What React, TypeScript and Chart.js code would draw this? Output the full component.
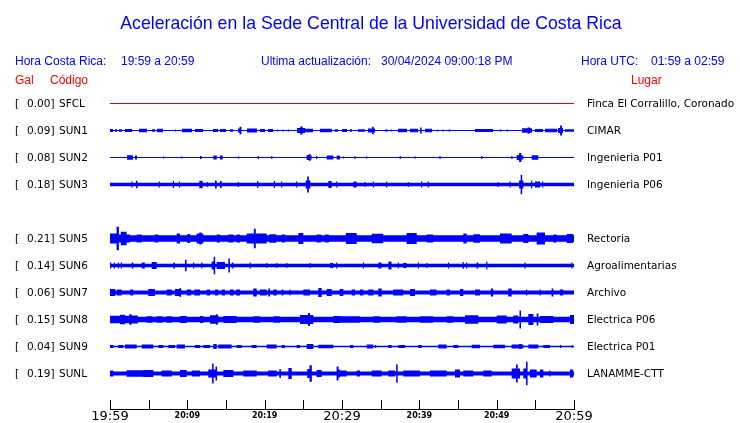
import React, { useEffect, useRef } from 'react';
import { Chart, registerables } from 'chart.js';

Chart.register(...registerables);

// ---- data ----
const stationCodes = ['SFCL', 'SUN1', 'SUN2', 'SUN3', 'SUN5', 'SUN6', 'SUN7', 'SUN8', 'SUN9', 'SUNL'];
const peakGal = ['0.00', '0.09', '0.08', '0.18', '0.21', '0.14', '0.06', '0.15', '0.04', '0.19'];
const places = [
  'Finca El Corralillo, Coronado', 'CIMAR', 'Ingenieria P01', 'Ingenieria P06', 'Rectoria',
  'Agroalimentarias', 'Archivo', 'Electrica P06', 'Electrica P01', 'LANAMME-CTT',
];
const rowSlots = [0, 1, 2, 3, 5, 6, 7, 8, 9, 10];
const baseAmp = [0.5, 0.5, 0.5, 1.8, 3.2, 1.8, 2.0, 2.7, 0.8, 2.0];
const tickMinutes = [0, 10, 20, 30, 40, 50, 60];
const tickLabels = ['19:59', '20:09', '20:19', '20:29', '20:39', '20:49', '20:59'];

// bursts: [start minute, end minute, half amplitude]
const sfclBursts: number[][] = [];
const sun1Bursts = [
  [0, 0.39, 1.5], [0.65, 0.91, 1.2], [1.16, 1.55, 1.2], [1.94, 2.84, 1.5], [3.75, 4.78, 1.7],
  [5.43, 5.82, 1.2], [6.08, 6.85, 1.7], [8.41, 8.55, 1.0], [9.31, 10.6, 1.7], [10.99, 12.03, 1.5],
  [13.32, 13.97, 1.5], [14.22, 15.0, 1.5], [15.52, 15.91, 1.2], [16.55, 16.75, 2.0], [16.75, 17.0, 3.7],
  [17.72, 19.01, 2.0], [19.4, 20.04, 1.5], [20.43, 21.08, 1.5], [21.6, 21.75, 1.0], [22.3, 22.45, 1.0],
  [23.0, 23.15, 1.0], [24.18, 24.6, 2.5], [24.6, 24.9, 4.0], [24.9, 25.22, 2.5], [25.22, 26.25, 1.7],
  [27.16, 28.71, 1.7], [29.09, 29.48, 1.2], [30.0, 30.65, 1.5], [31.03, 31.29, 1.2], [32.07, 32.97, 1.3],
  [33.36, 33.88, 2.0], [33.88, 34.1, 3.7], [34.1, 34.27, 2.0], [35.56, 35.9, 1.0], [36.3, 36.45, 1.0],
  [37.24, 38.41, 1.7], [38.79, 39.83, 1.7], [40.1, 40.3, 3.0], [40.73, 41.64, 1.7], [42.3, 42.45, 1.0],
  [43.0, 43.15, 1.0], [43.8, 44.0, 1.0], [47.2, 49.53, 1.5], [50.4, 50.6, 1.0], [51.3, 51.45, 1.0],
  [53.28, 54.0, 2.2], [54.0, 54.3, 3.0], [54.3, 54.57, 2.2], [54.96, 55.99, 1.5], [56.25, 57.8, 1.7],
  [57.93, 58.2, 2.5], [58.2, 58.45, 5.0], [58.45, 58.58, 2.5], [58.84, 60, 1.2],
];
const sun2Bursts = [
  [2.2, 2.97, 2.2], [3.23, 3.49, 2.0], [6.85, 7.0, 1.0], [9.2, 9.35, 1.0], [11.64, 11.85, 1.5],
  [13.36, 13.8, 2.0], [14.22, 14.57, 2.0], [16.55, 16.7, 1.0], [19.1, 19.25, 1.5], [20.85, 21.0, 1.5],
  [25.43, 25.7, 2.5], [25.7, 25.95, 3.3], [25.95, 26.08, 2.0], [26.65, 26.8, 1.5], [28.02, 28.88, 2.0],
  [29.31, 29.74, 2.0], [30.1, 30.25, 1.0], [31.6, 31.75, 1.5], [33.1, 33.25, 1.0], [37.45, 37.6, 1.5],
  [39.4, 39.55, 1.0], [42.6, 42.75, 1.5], [48.0, 48.15, 1.5], [51.9, 52.05, 1.5], [52.59, 52.9, 2.5],
  [52.9, 53.2, 4.5], [53.2, 53.45, 2.0], [54.53, 55.39, 2.3],
];
const sun3Bursts = [
  [2.75, 2.9, 3.0], [3.36, 3.55, 3.8], [6.3, 6.45, 3.0], [8.12, 8.27, 3.5], [8.9, 9.05, 3.0],
  [11.55, 11.98, 3.8], [12.52, 12.67, 2.5], [13.58, 13.8, 4.0], [14.22, 14.44, 3.5], [16.52, 16.67, 2.5],
  [19.02, 19.18, 3.5], [21.17, 21.33, 3.5], [22.12, 22.27, 3.0], [24.06, 24.21, 3.0], [25.3, 25.5, 4.0],
  [25.5, 25.72, 8.0], [25.72, 25.9, 4.0], [28.23, 28.66, 3.5], [29.24, 29.39, 3.0], [31.46, 31.9, 3.0],
  [32.9, 33.05, 2.5], [33.98, 34.13, 3.0], [35.7, 35.85, 3.0], [38.5, 38.65, 2.5], [40.22, 40.37, 3.0],
  [41.08, 41.23, 3.0], [50.13, 50.28, 2.5], [51.65, 51.8, 3.0], [52.9, 53.1, 4.0], [53.1, 53.3, 9.7],
  [53.3, 53.45, 4.0], [54.45, 54.6, 4.0], [54.96, 55.6, 3.0], [55.88, 56.03, 3.0],
];
const sun5Bursts = [
  [0, 0.85, 5.0], [0.85, 1.15, 11.7], [1.15, 1.4, 4.0], [1.4, 2.15, 6.7], [2.15, 2.6, 4.0],
  [3.45, 4.1, 4.0], [5.8, 6.25, 4.0], [8.62, 9.05, 5.0], [10.0, 10.35, 4.5], [11.2, 11.55, 5.0],
  [11.55, 11.85, 6.0], [11.85, 12.07, 5.0], [13.8, 14.22, 4.0], [15.3, 15.95, 4.0], [16.38, 16.81, 4.0],
  [17.67, 18.6, 5.0], [18.6, 18.85, 9.7], [18.85, 20.26, 5.0], [20.6, 21.5, 4.3], [22.2, 22.63, 4.0],
  [24.35, 25.0, 5.5], [26.72, 27.3, 4.0], [27.8, 28.3, 4.0], [30.5, 31.9, 5.5], [33.84, 35.34, 4.8],
  [38.36, 39.66, 5.5], [40.95, 41.8, 4.0], [45.69, 46.12, 5.0], [46.98, 47.84, 4.3], [50.43, 51.94, 5.0],
  [53.45, 54.1, 4.5], [55.17, 56.25, 6.0], [57.33, 57.76, 4.0], [59.06, 59.9, 4.5],
];
const sun6Bursts = [
  [0, 0.15, 3.0], [0.5, 0.65, 3.0], [1.0, 1.15, 3.0], [1.4, 1.55, 3.0], [2.8, 3.0, 3.0],
  [4.1, 4.5, 3.0], [5.4, 6.04, 3.5], [8.2, 8.4, 3.0], [9.7, 9.9, 5.8], [10.75, 10.9, 3.0],
  [11.8, 11.95, 3.0], [13.15, 13.4, 4.0], [13.4, 13.6, 8.7], [13.8, 14.87, 3.5], [15.3, 15.5, 7.0],
  [15.75, 15.95, 3.0], [18.05, 18.2, 3.0], [20.2, 20.35, 2.5], [21.5, 21.65, 2.5], [22.8, 22.95, 2.5],
  [25.8, 25.95, 2.5], [28.45, 28.85, 2.5], [29.25, 29.4, 3.0], [32.7, 32.85, 3.0], [34.7, 35.1, 3.0],
  [36.0, 36.4, 4.0], [37.2, 37.35, 3.0], [37.9, 38.35, 2.5], [39.8, 39.95, 3.0], [40.9, 41.05, 2.5],
  [43.7, 43.85, 3.0], [45.6, 45.75, 3.5], [46.05, 46.2, 3.0], [47.4, 47.62, 3.0], [48.65, 48.8, 4.0],
  [53.6, 53.75, 3.0], [59.65, 59.8, 3.0],
];
const sun7Bursts = [
  [0, 0.7, 3.5], [0.9, 1.5, 3.0], [2.6, 3.0, 3.0], [4.95, 5.8, 3.5], [7.33, 7.98, 3.0],
  [8.4, 9.0, 3.5], [9.0, 9.2, 4.5], [9.92, 10.5, 3.0], [10.9, 11.64, 3.0], [12.5, 12.93, 3.0],
  [13.58, 14.0, 3.0], [14.44, 14.87, 3.0], [15.52, 16.0, 3.0], [16.3, 16.81, 3.0], [18.53, 18.97, 4.0],
  [19.4, 20.26, 3.0], [20.47, 20.69, 4.0], [21.12, 21.55, 3.0], [22.2, 22.41, 3.0], [23.2, 23.35, 3.0],
  [25.0, 25.86, 3.0], [26.94, 27.37, 4.5], [28.02, 28.66, 3.5], [29.7, 30.17, 3.5], [31.25, 31.68, 3.0],
  [32.33, 32.76, 3.0], [33.4, 34.05, 3.0], [34.7, 35.13, 4.0], [36.63, 37.93, 3.0], [38.8, 39.44, 3.5],
  [41.38, 42.24, 3.0], [43.53, 43.96, 3.0], [45.26, 45.69, 3.5], [47.2, 47.84, 3.0], [49.25, 49.55, 4.0],
  [51.5, 51.94, 4.0], [53.8, 53.95, 3.0], [55.55, 55.7, 3.0], [57.1, 57.33, 4.0], [58.19, 58.62, 3.0],
];
const sun8Bursts = [
  [0, 1.29, 3.8], [1.29, 1.94, 4.8], [1.94, 2.5, 3.8], [2.5, 2.8, 5.2], [2.8, 3.6, 4.0],
  [4.7, 5.5, 3.2], [6.0, 6.8, 3.2], [7.3, 8.0, 3.2], [9.05, 9.92, 3.5], [11.64, 12.07, 3.5],
  [12.93, 13.7, 4.3], [13.7, 13.9, 5.3], [13.9, 14.0, 4.3], [14.66, 16.38, 3.5], [18.53, 19.4, 3.3],
  [21.12, 21.98, 3.3], [24.57, 25.6, 4.5], [25.6, 25.86, 6.5], [25.86, 26.29, 4.5], [28.88, 29.74, 3.5],
  [29.74, 32.33, 3.2], [34.05, 34.91, 3.2], [37.07, 38.36, 3.2], [40.09, 41.8, 3.2], [43.53, 44.4, 3.2],
  [45.9, 47.63, 4.3], [50.0, 51.3, 4.0], [52.15, 52.8, 4.0], [52.95, 53.15, 9.0], [54.09, 54.74, 5.5],
  [55.17, 55.39, 6.0], [55.6, 57.33, 3.5], [59.48, 60, 4.5],
];
const sun9Bursts = [
  [0, 0.43, 1.5], [1.07, 1.72, 1.5], [1.94, 3.45, 2.0], [4.1, 5.6, 2.0], [6.25, 6.9, 1.5],
  [7.54, 8.41, 1.5], [8.62, 9.7, 2.0], [10.99, 11.64, 1.5], [12.07, 12.93, 1.5], [13.36, 13.8, 2.5],
  [14.0, 15.73, 2.0], [16.38, 17.03, 1.5], [18.32, 18.97, 1.5], [20.26, 21.55, 2.0], [22.2, 22.63, 1.5],
  [24.14, 24.57, 1.5], [25.43, 26.29, 2.5], [26.94, 28.88, 1.8], [31.03, 31.46, 1.5], [33.19, 34.05, 2.0],
  [34.27, 34.42, 1.5], [35.99, 36.42, 1.5], [37.28, 38.15, 1.5], [39.87, 40.3, 1.5], [42.45, 43.53, 2.0],
  [44.4, 45.04, 1.5], [46.77, 47.84, 1.8], [49.57, 51.08, 1.8], [51.94, 52.9, 2.0], [52.9, 53.2, 2.5],
  [53.2, 53.45, 2.0], [54.09, 55.39, 2.0], [56.03, 56.9, 1.5], [58.19, 58.34, 1.5], [59.7, 59.85, 1.5],
];
const sunlBursts = [
  [0, 0.43, 3.0], [2.15, 4.3, 3.3], [4.3, 5.6, 3.5], [6.68, 7.98, 3.0], [9.05, 9.92, 3.5],
  [10.56, 11.64, 3.0], [12.7, 13.2, 4.0], [13.2, 13.4, 10.0], [13.4, 13.65, 4.0], [13.65, 13.85, 7.0],
  [14.66, 15.95, 3.5], [17.24, 18.97, 3.0], [20.47, 21.55, 3.0], [21.9, 22.1, 4.5], [23.06, 23.5, 5.5],
  [25.5, 25.8, 4.5], [25.8, 26.1, 8.3], [26.72, 27.37, 3.5], [29.3, 29.55, 7.0], [29.55, 29.74, 4.0],
  [29.74, 30.6, 3.0], [31.9, 32.33, 3.0], [33.84, 35.13, 3.0], [35.99, 36.85, 3.0], [37.0, 37.2, 9.3],
  [37.93, 40.09, 3.0], [41.38, 43.53, 3.0], [44.61, 45.26, 4.0], [45.69, 46.98, 3.0], [48.27, 49.35, 3.0],
  [51.94, 52.5, 5.0], [52.5, 52.72, 9.0], [52.72, 53.02, 5.0], [53.45, 53.8, 5.0], [53.8, 54.0, 11.7],
  [54.31, 55.17, 4.0], [55.6, 56.03, 4.0], [56.8, 56.95, 3.0], [59.48, 59.91, 4.0],
];
const stationBursts = [
  sfclBursts, sun1Bursts, sun2Bursts, sun3Bursts, sun5Bursts,
  sun6Bursts, sun7Bursts, sun8Bursts, sun9Bursts, sunlBursts,
];

// ---- styling / layout ----
const traceColors = ['#e00000', '#0000ff', '#0000ff', '#0000ff', '#0000ff', '#0000ff', '#0000ff', '#0000ff', '#0000ff', '#0000ff'];
const ROW_STEP = 27;
const AREA_TOP = 90;
const AREA_BOTTOM = 409;
const ROW0_PX = 103.5;
const LABEL_BASE0 = 107.3;

function envelope(base: number, bursts: number[][]) {
  const sorted = bursts.slice().sort((a, b) => a[0] - b[0]);
  const pts: { x: number; a: number }[] = [{ x: 0, a: base }];
  sorted.forEach((b, i) => {
    pts.push({ x: b[0], a: b[2] });
    const nextStart = i + 1 < sorted.length ? sorted[i + 1][0] : 60;
    if (b[1] < nextStart) pts.push({ x: b[1], a: base });
  });
  pts.push({ x: 60, a: base });
  return pts;
}

const axisPlugin = {
  id: 'seisAxis',
  afterDraw(chart: any) {
    const xs = chart.scales.x;
    const ctx = chart.ctx;
    const y = Math.round(chart.chartArea.bottom) + 0.5;
    ctx.save();
    ctx.strokeStyle = '#000';
    ctx.lineWidth = 1;
    ctx.beginPath();
    ctx.moveTo(Math.round(xs.getPixelForValue(xs.min)), y);
    ctx.lineTo(Math.round(xs.getPixelForValue(xs.max)) + 1, y);
    for (const t of xs.ticks) {
      const px = Math.round(xs.getPixelForValue(t.value)) + 0.5;
      ctx.moveTo(px, y - 9.5);
      ctx.lineTo(px, y);
    }
    ctx.stroke();
    ctx.restore();
  },
};

export default function App() {
  const canvasRef = useRef<HTMLCanvasElement | null>(null);

  useEffect(() => {
    if (!canvasRef.current) return;
    const datasets: any[] = [];
    stationCodes.forEach((_, i) => {
      const rowY = ROW_STEP * rowSlots[i];
      const env = envelope(baseAmp[i], stationBursts[i]);
      const common = {
        type: 'line',
        borderWidth: 0,
        pointRadius: 0,
        pointHoverRadius: 0,
        stepped: true,
        tension: 0,
        borderColor: traceColors[i],
        backgroundColor: traceColors[i],
      };
      datasets.push({ ...common, data: env.map((p) => ({ x: p.x, y: rowY - p.a })), fill: false });
      datasets.push({ ...common, data: env.map((p) => ({ x: p.x, y: rowY + p.a })), fill: '-1' });
    });

    const yMin = (ROW0_PX - AREA_TOP) * -1;
    const chart = new Chart(canvasRef.current, {
      type: 'line',
      data: { datasets },
      plugins: [axisPlugin],
      options: {
        animation: false,
        responsive: false,
        maintainAspectRatio: false,
        events: [],
        layout: { padding: { left: 110, right: 166, top: AREA_TOP, bottom: 0 } },
        plugins: {
          legend: { display: false },
          tooltip: { enabled: false },
          title: { display: false },
        },
        scales: {
          x: {
            type: 'linear',
            min: 0,
            max: 60,
            grid: { display: false, drawTicks: false, tickLength: 0 },
            border: { display: false },
            ticks: {
              stepSize: 5,
              autoSkip: false,
              maxRotation: 0,
              minRotation: 0,
              padding: 0,
              color: '#000',
              callback: (v: any) => {
                const k = tickMinutes.indexOf(Number(v));
                return k >= 0 ? tickLabels[k] : '';
              },
              font: (ctx: any) =>
                ctx.tick && ctx.tick.value % 30 === 0
                  ? { family: 'DejaVu Sans', size: 13, lineHeight: 1.2 }
                  : { family: 'DejaVu Sans', size: 8, weight: 'bold', lineHeight: 1.75 },
            },
            afterFit: (s: any) => {
              s.height = 423 - AREA_BOTTOM;
            },
          },
          y: {
            type: 'linear',
            display: false,
            reverse: true,
            min: yMin,
            max: yMin + (AREA_BOTTOM - AREA_TOP),
          },
        },
      } as any,
    } as any);
    return () => chart.destroy();
  }, []);

  const sans = '"Liberation Sans", Arial, sans-serif';
  const dv = '"DejaVu Sans", sans-serif';
  const txt = (left: number, baseline: number, size: number, family: string, color: string, s: string, key: string) => (
    <span
      key={key}
      style={{
        position: 'absolute',
        left,
        top: baseline - 0.846 * size,
        fontFamily: family,
        fontSize: size,
        lineHeight: `${size}px`,
        color,
        whiteSpace: 'pre',
      }}
    >
      {s}
    </span>
  );

  return (
    <div style={{ position: 'absolute', left: 0, top: 0, width: 740, height: 423, background: '#fff', overflow: 'hidden' }}>
      <canvas ref={canvasRef} width={740} height={423} style={{ position: 'absolute', left: 0, top: 0, width: 740, height: 423 }} />
      <div
        style={{
          position: 'absolute', left: 0, width: 742, textAlign: 'center', top: 30 - 0.846 * 17.7,
          fontFamily: sans, fontSize: 17.7, lineHeight: '17.7px', color: '#0000ff', whiteSpace: 'pre',
        }}
      >
        Aceleración en la Sede Central de la Universidad de Costa Rica
      </div>
      {txt(15, 65, 12, sans, '#0000ff', 'Hora Costa Rica:', 'h1')}
      {txt(121, 65, 12, sans, '#0000ff', '19:59 a 20:59', 'h2')}
      {txt(261, 65, 12, sans, '#0000ff', 'Ultima actualización:', 'h3')}
      {txt(381, 65, 12, sans, '#0000ff', '30/04/2024 09:00:18 PM', 'h4')}
      {txt(581, 65, 12, sans, '#0000ff', 'Hora UTC:', 'h5')}
      {txt(651, 65, 12, sans, '#0000ff', '01:59 a 02:59', 'h6')}
      {txt(15, 84, 12, sans, '#ff0000', 'Gal', 'r1')}
      {txt(50, 84, 12, sans, '#ff0000', 'Código', 'r2')}
      {txt(631, 84, 12, sans, '#ff0000', 'Lugar', 'r3')}
      {stationCodes.map((code, i) => {
        const b = LABEL_BASE0 + ROW_STEP * rowSlots[i];
        return (
          <React.Fragment key={code}>
            {txt(15, b, 10.5, dv, '#000', '[', code + 'b')}
            {txt(27, b, 10.5, dv, '#000', peakGal[i] + ']', code + 'g')}
            {txt(59, b, 10.5, dv, '#000', code, code + 'c')}
            {txt(587, b, 10.5, dv, '#000', places[i], code + 'p')}
          </React.Fragment>
        );
      })}
    </div>
  );
}
